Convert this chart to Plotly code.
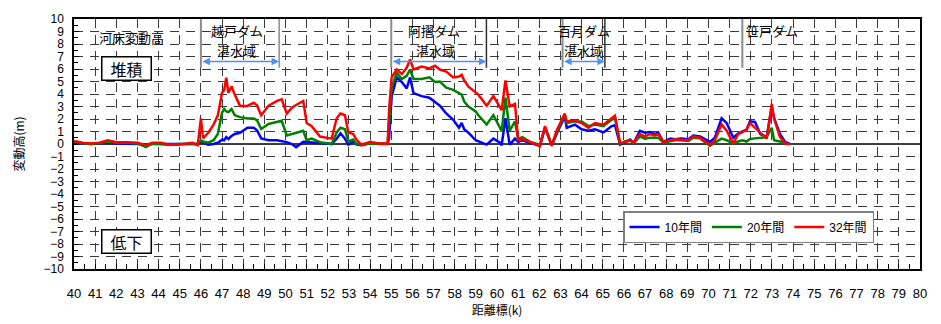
import plotly.graph_objects as go

# ---------------- data ----------------
km = [40.0, 40.4, 40.8, 41.2, 41.6, 42.0, 42.5, 43.0, 43.4, 43.7, 44.1, 44.5, 44.9, 45.3, 45.6, 45.85,
      46.0, 46.1, 46.35, 46.6, 46.8, 47.0, 47.1, 47.2, 47.3, 47.45, 47.6, 47.85, 48.2, 48.5, 48.65, 48.85,
      49.2, 49.6, 49.82, 50.06, 50.3, 50.5, 50.84, 51.0, 51.24, 51.63, 52.18, 52.42, 52.6, 52.81, 52.97,
      53.2, 53.37, 53.6, 54.0, 54.4, 54.83, 54.9, 55.02, 55.26, 55.5, 55.73, 55.89, 56.05, 56.44, 56.8,
      57.07, 57.3, 57.6, 57.93, 58.2, 58.33, 58.45, 58.65, 58.99, 59.12, 59.51, 59.83, 60.14, 60.22, 60.4,
      60.6, 60.85, 61.0, 61.2, 61.56, 62.03, 62.27, 62.59, 62.82, 63.2, 63.3, 63.69, 64.0, 64.32, 64.63,
      65.03, 65.42, 65.58, 65.82, 66.05, 66.3, 66.45, 66.76, 67.0, 67.23, 67.45, 67.63, 67.86, 68.2, 68.42,
      68.7, 69.05, 69.28, 69.6, 70.07, 70.3, 70.62, 70.86, 71.17, 71.41, 71.6, 71.8, 71.96, 72.2, 72.45,
      72.75, 72.99, 73.1, 73.38, 73.62, 73.85]

y10 = [0.1, 0.05, 0.0, 0.05, 0.1, 0.05, 0.05, 0.0, -0.05, 0.0, 0.0, 0.0, 0.0, 0.0, 0.0, 0.0,
       0.15, 0.1, -0.05, 0.0, 0.1, 0.35, 0.3, 0.55, 0.4, 0.65, 0.8, 0.9, 1.3, 1.3, 1.1, 0.45,
       0.3, 0.3, 0.25, 0.15, 0.0, -0.25, 0.17, 0.15, 0.1, 0.05, 0.0, 0.43, 0.86, 0.43, -0.05,
       0.2, -0.05, -0.1, 0.05, 0.0, 0.0, 0.5, 3.8, 5.33, 4.96, 4.45, 5.33, 4.07, 3.83, 3.7,
       3.32, 3.07, 2.44, 1.94, 1.3, 1.68, 1.18, 0.9, 0.3, 0.2, -0.05, 0.43, 0.1, -0.1, 2.06,
       -0.05, 0.43, 0.17, 0.3, 0.1, -0.15, 1.3, -0.1, 0.8, 2.19, 1.3, 1.55, 1.18, 1.06, 1.18,
       0.93, 1.43, 1.5, -0.05, 0.15, 0.35, 0.05, 1.06, 0.9, 0.95, 0.8, 0.9, 0.17, 0.43, 0.38,
       0.43, 0.38, 0.68, 0.6, 0.17, 0.5, 2.06, 1.68, 0.5, 0.85, 1.0, 1.15, 1.81, 1.76, 0.8,
       0.55, 2.94, 2.06, 0.8, 0.17, 0.0]

y20 = [0.2, 0.05, 0.0, 0.05, 0.2, 0.1, 0.1, 0.05, -0.25, 0.05, 0.0, -0.05, 0.0, 0.0, 0.0, 0.0,
       0.3, 0.2, 0.1, 0.3, 0.8, 2.5, 2.8, 2.6, 2.55, 2.8, 2.3, 2.15, 2.05, 2.05, 1.9, 1.2,
       1.6, 1.75, 1.86, 0.68, 0.8, 0.85, 1.06, 0.3, 0.43, 0.15, 0.0, 0.93, 1.3, 1.18, 0.2,
       0.35, -0.05, 0.0, 0.05, 0.05, 0.0, 1.5, 4.5, 5.7, 5.2, 5.45, 5.96, 5.2, 5.2, 5.33,
       4.96, 5.0, 4.5, 4.33, 4.1, 3.95, 3.4, 3.0, 2.6, 2.3, 1.56, 2.31, 1.3, 1.0, 3.7,
       1.06, 1.81, 0.4, 0.55, 0.17, -0.05, 1.3, -0.1, 0.93, 2.3, 1.68, 1.81, 1.81, 1.43, 1.55,
       1.43, 1.94, 2.06, 0.0, 0.2, 0.3, 0.05, 0.6, 0.43, 0.5, 0.5, 0.5, 0.1, 0.25, 0.3,
       0.3, 0.25, 0.5, 0.45, -0.13, 0.1, 0.43, 0.3, 0.05, 0.2, 0.3, 0.2, 0.4, 0.45, 0.5,
       0.55, 1.3, 0.3, 0.2, 0.0, 0.0]

y32 = [0.25, 0.1, 0.05, 0.1, 0.3, 0.15, 0.15, 0.1, -0.1, 0.1, 0.1, -0.05, -0.05, 0.05, 0.1, -0.1,
       2.05, 0.45, 0.9, 1.55, 2.3, 4.1, 4.3, 5.3, 4.1, 4.6, 3.95, 3.05, 3.05, 3.3, 3.1, 2.3,
       3.07, 3.45, 3.57, 2.44, 2.9, 3.12, 3.45, 1.68, 1.43, 0.6, 0.43, 2.06, 2.44, 2.3, 0.93,
       0.8, 0.3, -0.08, 0.17, 0.05, 0.05, 2.8, 5.33, 5.96, 5.6, 6.1, 6.77, 5.96, 6.2, 6.04,
       6.26, 5.96, 5.8, 5.33, 5.4, 5.53, 5.08, 4.58, 4.1, 3.95, 3.07, 3.83, 2.95, 2.7, 5.08,
       3.0, 3.2, 0.3, 0.4, 0.17, -0.15, 1.43, -0.15, 1.06, 2.44, 1.81, 1.86, 1.68, 1.3, 1.68,
       1.55, 2.06, 2.26, 0.05, 0.2, 0.3, 0.1, 0.8, 0.6, 0.8, 0.68, 0.8, 0.17, 0.3, 0.38,
       0.35, 0.3, 0.6, 0.5, -0.08, 0.3, 1.56, 1.06, 0.05, 0.8, 0.95, 1.15, 1.68, 1.3, 0.9,
       0.43, 3.2, 2.06, 0.55, 0.05, 0.0]

series_names = ["10年間", "20年間", "32年間"]
series_colors = ["#0000ff", "#008000", "#ff0000"]

x_ticks = list(range(40, 81))

# reservoir annotations
dam_labels = ["越戸ダム", "阿摺ダム", "百月ダム", "笹戸ダム"]
dam_label_km = [47.7, 57.0, 64.1, 73.0]
dam_line_km = [46.0, 55.0, 63.1, 71.6]
res_end_km = [49.7, 59.5, 65.1]
res_label_km = [47.7, 57.1, 64.1]

FONT_JP = "Noto Sans CJK JP"

fig = go.Figure()
for name, col, ys in zip(series_names, series_colors, [y10, y20, y32]):
    fig.add_trace(go.Scatter(x=km, y=ys, mode="lines", name=name,
                             line=dict(color=col, width=2.5)))

shapes = []
# zero line
shapes.append(dict(type="line", xref="x", yref="y", x0=40, x1=80, y0=0, y1=0,
                   line=dict(color="black", width=1.5), layer="below"))
for k in dam_line_km:
    shapes.append(dict(type="line", xref="x", yref="y", x0=k, x1=k, y0=6.1, y1=10,
                       line=dict(color="#8c8c8c", width=2)))
for k, c in zip(res_end_km, ["#8c8c8c", "#303030", "#303030"]):
    shapes.append(dict(type="line", xref="x", yref="y", x0=k, x1=k, y0=6.1, y1=10,
                       line=dict(color=c, width=1.5)))

annotations = []
annotations.append(dict(x=42.7, y=8.5, xref="x", yref="y", text="河床変動高", showarrow=False,
                        font=dict(family=FONT_JP, size=13, color="black")))
for txt, kx, yy in [("堆積", 42.5, 6.05), ("低下", 42.5, -7.8)]:
    annotations.append(dict(x=kx, y=yy, xref="x", yref="y", text=txt, showarrow=False,
                            font=dict(family=FONT_JP, size=16, color="black"),
                            bordercolor="black", borderwidth=1.5, borderpad=1,
                            bgcolor="white", width=46, height=20))
for txt, kx in zip(dam_labels, dam_label_km):
    annotations.append(dict(x=kx, y=9.05, xref="x", yref="y", text=txt, showarrow=False,
                            font=dict(family=FONT_JP, size=13, color="black")))
for kx in res_label_km:
    annotations.append(dict(x=kx, y=7.48, xref="x", yref="y", text="湛水域", showarrow=False,
                            font=dict(family=FONT_JP, size=13, color="black")))
for k0, k1 in zip(dam_line_km[:3], res_end_km):
    annotations.append(dict(x=k1, y=6.6, ax=k0, ay=6.6, xref="x", yref="y", axref="x", ayref="y",
                            text="", showarrow=True, arrowside="end+start", arrowhead=2,
                            arrowsize=1, arrowwidth=1.5, arrowcolor="#4f8ff7"))

fig.update_layout(
    width=941, height=324,
    margin=dict(l=74, r=21, t=12, b=47),
    paper_bgcolor="white", plot_bgcolor="white",
    font=dict(family="Liberation Sans, " + FONT_JP, size=13, color="black"),
    shapes=shapes, annotations=annotations,
    showlegend=True,
    legend=dict(orientation="h", x=0.649, y=0.232, xanchor="left", yanchor="top",
                bgcolor="white", bordercolor="#808080", borderwidth=1.5,
                font=dict(family="Liberation Sans, " + FONT_JP, size=12),
                itemwidth=30, tracegroupgap=0),
)
fig.update_xaxes(
    range=[40, 80], tickmode="array", tickvals=x_ticks, ticktext=[str(v) for v in x_ticks],
    ticks="inside", ticklen=5, tickcolor="black", ticklabelstandoff=12,
    tickfont=dict(size=13),
    minor=dict(dtick=0.5, ticks="inside", ticklen=5, tickcolor="black", showgrid=False),
    showgrid=True, gridcolor="#3a3a3a", gridwidth=1, griddash="9px,7px",
    showline=True, linecolor="black", linewidth=1.5, mirror=True, zeroline=False,
    title=dict(text="距離標(k)", font=dict(family=FONT_JP, size=12), standoff=2),
)
fig.update_yaxes(
    range=[-10, 10], dtick=1, tick0=0,
    ticks="inside", ticklen=5, tickcolor="black", ticklabelstandoff=6,
    tickfont=dict(size=12),
    minor=dict(dtick=0.5, ticks="inside", ticklen=4, tickcolor="black", showgrid=False),
    showgrid=True, gridcolor="#3a3a3a", gridwidth=1, griddash="9px,7px",
    showline=True, linecolor="black", linewidth=1.5, mirror=True, zeroline=False,
    title=dict(text="変動高(m)", font=dict(family=FONT_JP, size=12), standoff=16),
)

fig.write_html("out.html")
